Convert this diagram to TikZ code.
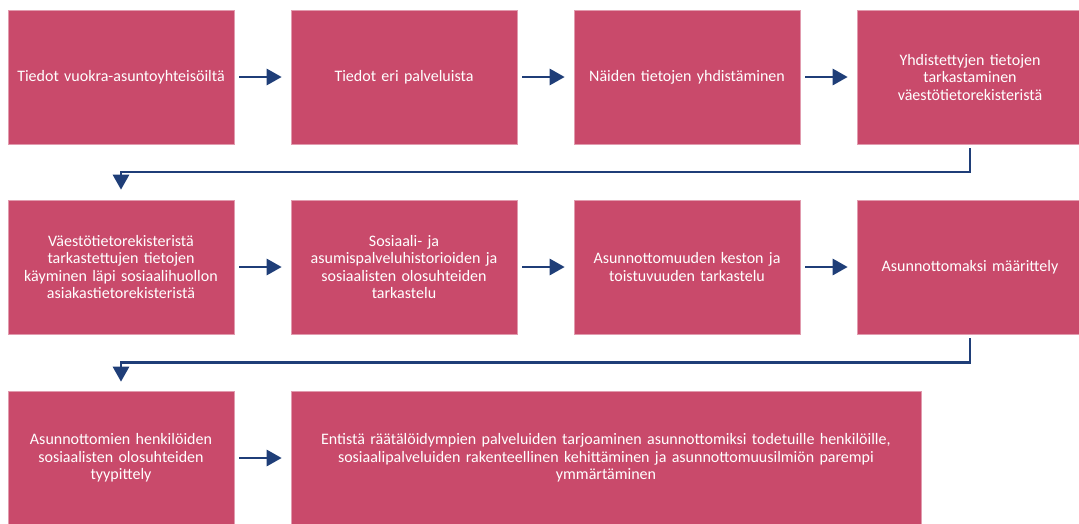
\documentclass[tikz,border=0pt]{standalone}
\usepackage{fontspec}
\setmainfont{Carlito}
\usetikzlibrary{arrows.meta,calc}
\definecolor{boxred}{RGB}{201,74,107}
\definecolor{flownavy}{RGB}{31,62,120}
\tikzset{
	stepbox/.style={rectangle, fill=boxred, draw=boxred!55!white, line width=0.6pt,
		minimum width=226pt, minimum height=134pt, inner sep=0pt,
		text=white, align=center, text width=215pt, font=\fontsize{16}{17.5}\selectfont},
	widebox/.style={stepbox, minimum width=630pt, text width=625pt},
	flow/.style={draw=flownavy, line width=2.8pt, -{Triangle[length=15pt,width=16pt]},
		shorten <=5pt, shorten >=9pt},
}

\begin{document}
\begin{tikzpicture}[x=1pt,y=-1pt]
		%%%%% START %%%%%
		
		\useasboundingbox (0,0) rectangle (1079,523);
		\clip (0,0) rectangle (1079,523);
		
		% first row
		\node[stepbox] (tiedot) at (121,77) {Tiedot vuokra-asuntoyhteisöiltä};
		\node[stepbox] (palvelut) at (404,77) {Tiedot eri palveluista};
		\node[stepbox] (yhdistys) at (687,77) {Näiden tietojen yhdistäminen};
		\node[stepbox] (tarkastus) at (970,77) {Yhdistettyjen tietojen\\tarkastaminen\\väestötietorekisteristä};
		
		% second row
		\node[stepbox] (kayminen) at (121,267) {Väestötietorekisteristä\\tarkastettujen tietojen\\käyminen läpi sosiaalihuollon\\asiakastietorekisteristä};
		\node[stepbox] (historia) at (404,267) {Sosiaali- ja\\asumispalveluhistorioiden ja\\sosiaalisten olosuhteiden\\tarkastelu};
		\node[stepbox] (kesto) at (687,267) {Asunnottomuuden keston ja\\toistuvuuden tarkastelu};
		\node[stepbox] (maaritys) at (970,267) {Asunnottomaksi määrittely};
		
		% third row
		\node[stepbox] (tyypit) at (121,458) {Asunnottomien henkilöiden\\sosiaalisten olosuhteiden\\tyypittely};
		\node[widebox] (tulos) at (606,458) {Entistä räätälöidympien palveluiden tarjoaminen asunnottomiksi todetuille henkilöille,\\sosiaalipalveluiden rakenteellinen kehittäminen ja asunnottomuusilmiön parempi\\ymmärtäminen};
		
		\draw[flow] (tiedot) -- (palvelut);
		\draw[flow] (palvelut) -- (yhdistys);
		\draw[flow] (yhdistys) -- (tarkastus);
		\draw[flow, shorten <=4pt, shorten >=10pt] (tarkastus.south) |- ($(tarkastus.south)!.5!(kayminen.north)$) -| (kayminen.north);
		
		\draw[flow] (kayminen) -- (historia);
		\draw[flow] (historia) -- (kesto);
		\draw[flow] (kesto) -- (maaritys);
		\draw[flow, shorten <=4pt, shorten >=9pt] (maaritys.south) |- ($(maaritys.south)!.5!(tyypit.north)$) -| (tyypit.north);
		
		\draw[flow] (tyypit) -- (tulos);
		
		%%%%% END %%%%%
\end{tikzpicture}
\end{document}
